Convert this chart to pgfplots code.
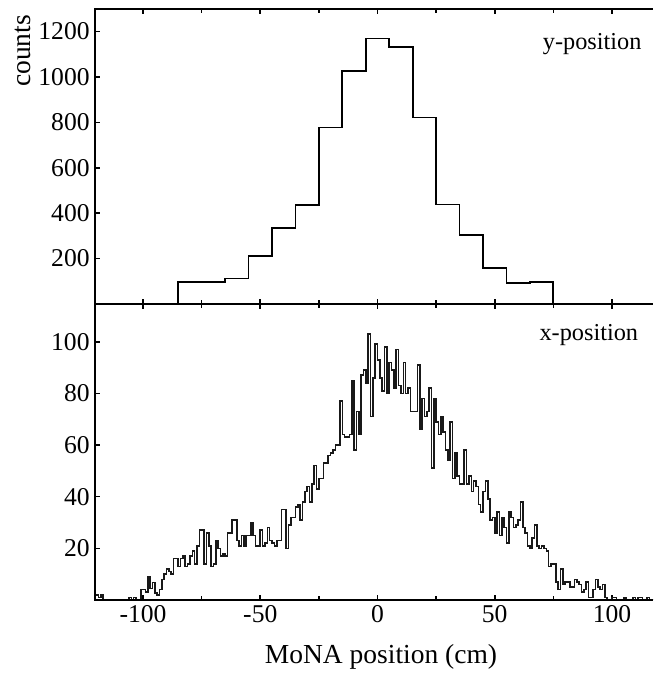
\documentclass[border=0pt]{standalone}
\usepackage{fontspec}
\setmainfont{Liberation Serif}
\usepackage{pgfplots}
\usepackage{pgfplotstable}
\pgfplotsset{compat=1.18}

% y-position: 10 cm bins (left edge, counts)
\pgfplotstableread{
x y
-85 0
-85 98
-75 98
-65 112
-55 213
-45 336
-35 436
-25 777
-15 1027
-5 1169
5 1131
15 821
25 438
35 304
45 160
55 94
65 98
75 0
}\ypos

% x-position: 1 cm bins (left edge, counts)
\pgfplotstableread{
x y
-121 2
-120 2
-119 1
-118 2
-117 0
-107 0
-106 1
-105 0
-104 1
-103 0
-102 0
-101 4
-100 4
-99 3
-98 9
-97 4.5
-96 6.7
-95 2.8
-94 2
-93 4
-92 8
-91 10
-90 12
-89 11
-88 10
-87 16
-86 16
-85 13
-84 16
-83 17
-82 13
-81 14
-80 17
-79 19
-78 14
-77 21
-76 27
-75 27
-74 14
-73 26
-72 21
-71 13
-70 14
-69 23
-68 20
-67 17
-66 18
-65 17
-64 26
-63 26
-62 31
-61 31
-60 23
-59 21
-58 25
-57 21
-56 25
-55 25
-54 30
-53 25
-52 21
-51 21
-50 27
-49 21
-48 22
-47 28
-46 23
-45 22
-44 21
-43 23
-42 23
-41 35
-40 35
-39 20
-38 29
-37 32
-36 32
-35 36
-34 37
-33 31
-32 38
-31 42
-30 44
-29 38
-28 45
-27 52
-26 43
-25 47
-24 47
-23 53
-22 53
-21 56
-20 57
-19 58
-18 60
-17 60
-16 77
-15 64
-14 63
-13 63
-12 64
-11 85
-10 58
-9 73
-8 64
-7 87
-6 89
-5 84
-4 103
-3 71
-2 86
-1 99
0 93
1 86
2 81
3 98
4 80
5 92
6 89
7 82
8 97
9 83
10 80
11 92
12 80
13 82
14 73
15 73
16 73
17 91
18 66
19 78
20 71
21 73
22 82
23 51
24 78
25 69
26 64
27 71
28 65
29 58
30 54
31 69
32 47
33 57
34 48
35 45
36 45
37 58
38 45
39 48
40 42
41 46
42 44
43 37
44 34
45 42
46 46
47 39
48 31
49 32
50 26
51 34
52 25
53 32
54 28
55 22
56 34
57 32
58 28
59 29
60 31
61 38
62 28
63 26
64 21
65 20
66 24
67 29
68 21
69 20
70 21
71 20
72 19
73 13
74 14
75 14
76 7
77 4
78 12
79 6
80 7
81 7
82 5
83 5
84 8
85 7
86 6
87 3
88 4
89 7
90 1
91 1
92 4
93 8
94 5
95 4
96 6
97 1
98 0
100 1
101 1
102 0
105 1
106 0
109 1
110 0
111 1
112 1
113 0
115 1
116 0
119 0
}\xpos

\begin{document}
\begin{tikzpicture}
\pgfplotsset{
  panel/.style={
    scale only axis,
    width=279pt,
    xmin=-120.5, xmax=117.5,
    axis line style={draw=none},
    clip mode=individual,
    xtick={-100,-50,0,50,100},
    minor x tick num=1,
    xtick pos=both,
    ytick pos=left,
    tick align=inside,
    major tick length=2.4pt,
    minor tick length=1.8pt,
    every tick/.style={black, line width=0.8pt},
    /pgf/number format/assume math mode=true,
    /pgf/number format/1000 sep={},
    ticklabel style={font=\fontsize{12.8}{14}\selectfont},
    yticklabel style={inner sep=0pt, xshift=-2.5pt},
    xticklabel style={inner sep=0pt, yshift=-2.5pt},
  },
}

% lower panel: x-position
\begin{axis}[
  panel,
  at={(47.5pt,36.5pt)}, anchor=south west,
  height=148pt,
  ymin=0, ymax=114.6,
  ytick={20,40,60,80,100},
]
\addplot[const plot, black!90, line width=0.8pt] table[x=x, y=y] {\xpos};
\draw[line width=1pt] (rel axis cs:0,1) -- (rel axis cs:0,0) -- (rel axis cs:1,0);
\node[anchor=base, font=\fontsize{12.15}{14}\selectfont] at (rel axis cs:0.885,0.878) {x-position};
\end{axis}

% upper panel: y-position
\begin{axis}[
  panel,
  at={(47.5pt,184.5pt)}, anchor=south west,
  height=147.35pt,
  ymin=0, ymax=1298,
  ytick={200,400,600,800,1000,1200},
  xticklabels={},
]
\addplot[const plot, black, line width=0.9pt] table[x=x, y=y] {\ypos};
\draw[line width=1pt] (rel axis cs:0,0) -- (rel axis cs:0,1) -- (rel axis cs:1,1);
\draw[line width=1pt] (rel axis cs:0,0) -- (rel axis cs:1,0);
\node[anchor=base, font=\fontsize{12.15}{14}\selectfont] at (rel axis cs:0.891,0.862) {y-position};
\end{axis}

\node[rotate=90, font=\fontsize{13.75}{16}\selectfont] at (11.5pt,311pt) {counts};
\node[anchor=base, font=\fontsize{13.75}{16}\selectfont] at (190.5pt,5pt) {MoNA position (cm)};

\pgfresetboundingbox
\path[use as bounding box] (0,0) rectangle (327pt,336.5pt);
\end{tikzpicture}
\end{document}
